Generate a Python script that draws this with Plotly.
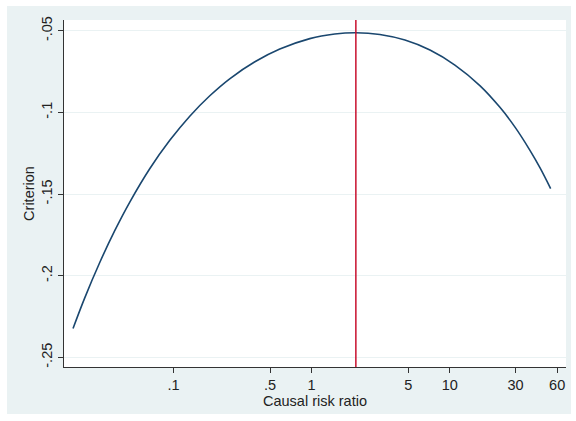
import plotly.graph_objects as go

# Data
risk_ratio = [0.0187, 0.0227, 0.0292, 0.0375, 0.0482, 0.0672, 0.0939, 0.131,
              0.183, 0.255, 0.388, 0.588, 0.97, 1.47, 2.09, 3.12, 4.74, 7.19,
              10.9, 16.6, 23.1, 29.7, 38.1, 45.0, 53.8]
criterion = [-0.2323, -0.2137, -0.1919, -0.1724, -0.1549, -0.1345, -0.1171,
             -0.1023, -0.0898, -0.0794, -0.0690, -0.0612, -0.0548, -0.0520,
             -0.0512, -0.0523, -0.0557, -0.0618, -0.0710, -0.0837, -0.0969,
             -0.1090, -0.1232, -0.1338, -0.1466]
best_rr = 2.09

x_tickvals = [0.1, 0.5, 1, 5, 10, 30, 60]
x_ticktext = [".1", ".5", "1", "5", "10", "30", "60"]
y_tickvals = [-0.25, -0.2, -0.15, -0.1, -0.05]
y_ticktext = ["-.25", "-.2", "-.15", "-.1", "-.05"]

W, H = 576, 421
L, R, T, B = 64, 10, 20, 54
pw, ph = W - L - R, H - T - B

def px_to_paper_x(px):
    return (px - L) / pw

def py_to_paper_y(py):
    return 1 - (py - T) / ph

font = dict(family="Liberation Sans, Arial, sans-serif", size=14.5, color="#222222")

fig = go.Figure()
fig.add_trace(go.Scatter(
    x=risk_ratio, y=criterion, mode="lines",
    line=dict(color="#1a476f", width=1.6, shape="spline", smoothing=1.0),
    showlegend=False, hoverinfo="skip"))

# outer light panel
fig.add_shape(type="rect", xref="paper", yref="paper",
              x0=px_to_paper_x(7), x1=px_to_paper_x(571),
              y0=py_to_paper_y(414), y1=py_to_paper_y(6),
              fillcolor="#eaf2f3", line=dict(width=0), layer="below")
# white plot region
fig.add_shape(type="rect", xref="paper", yref="paper",
              x0=0, x1=1, y0=0, y1=1,
              fillcolor="white", line=dict(width=0), layer="below")
# vertical line at best risk ratio
fig.add_shape(type="line", xref="x", yref="paper",
              x0=best_rr, x1=best_rr, y0=0, y1=1,
              line=dict(color="#c8102e", width=1.5))

fig.update_layout(
    width=W, height=H,
    margin=dict(l=L, r=R, t=T, b=B),
    paper_bgcolor="white", plot_bgcolor="rgba(0,0,0,0)",
    font=font,
    xaxis=dict(type="log", range=[-1.7935, 1.842],
               tickvals=x_tickvals, ticktext=x_ticktext,
               ticks="outside", ticklen=5, tickcolor="#333333",
               showgrid=False, zeroline=False,
               showline=True, linecolor="#333333", linewidth=1,
               title=dict(text="Causal risk ratio", standoff=0, font=font)),
    yaxis=dict(range=[-0.2559, -0.0434],
               tickvals=y_tickvals, ticktext=y_ticktext, tickangle=-90,
               ticks="outside", ticklen=5, tickcolor="#333333",
               showgrid=True, gridcolor="#eaf2f3", gridwidth=1,
               zeroline=False,
               showline=True, linecolor="#333333", linewidth=1,
               title=dict(text="Criterion", standoff=1, font=font)),
)

fig.write_html("out.html", config={"displayModeBar": False},
               post_script="document.body.style.margin='0';document.body.style.padding='0';")
